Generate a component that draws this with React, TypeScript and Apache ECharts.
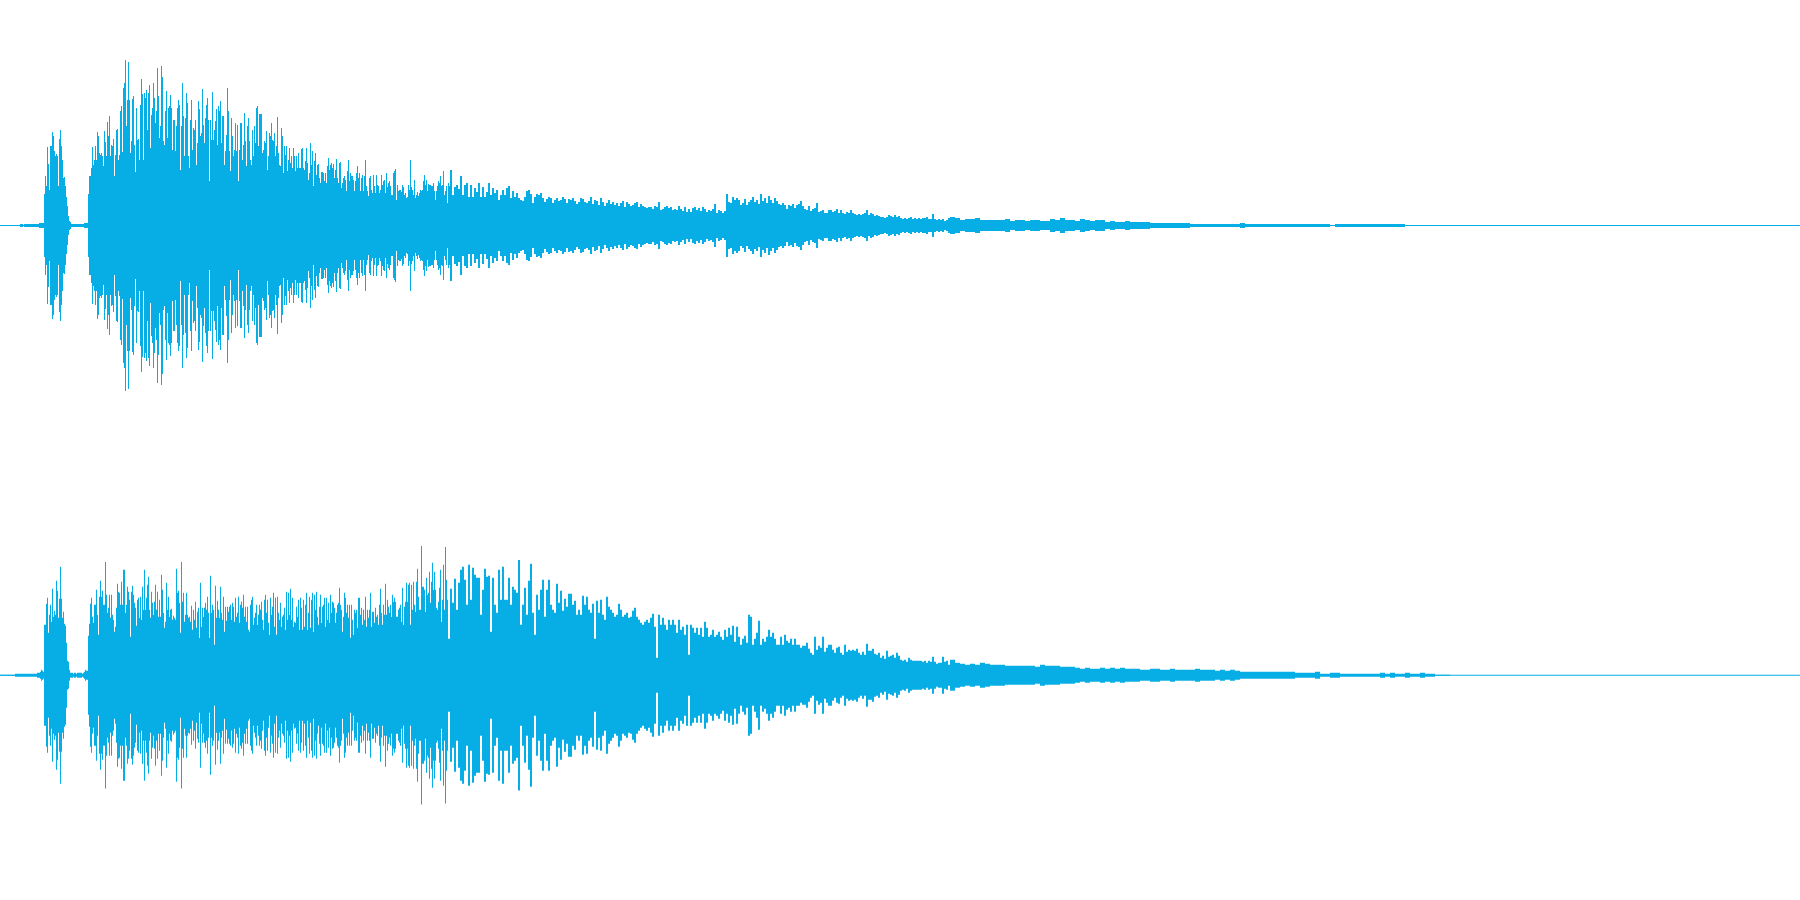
import React, { useEffect, useRef } from "react";
import * as echarts from "echarts";

const COLOR = "#07AEE6";

// Per-column peak amplitude (symmetric about zero).
const upperFine = [
  0,0,0,0,0,0,0,0,0,0,
  0,0,0,0,0,0,0,0,0,0,
  1,1,1,0,1,1,1,1,1,1,
  1,1,1,1,1,1,1,1,1,2,
  2,2,2,2,31,49,39,78,61,35,
  79,79,93,89,74,69,71,69,39,86,
  95,79,65,47,48,39,28,19,9,4,
  3,1,1,1,1,1,1,1,1,1,
  1,1,1,1,2,2,2,2,31,49,
  49,57,78,60,65,79,65,93,89,72,
  70,72,69,59,94,83,69,103,89,109,
  69,80,79,86,49,70,95,96,65,70,
  114,119,73,137,142,165,99,125,163,125,
  72,84,126,129,80,53,117,85,86,65,
  120,146,131,65,132,127,135,95,132,140,
  77,110,117,142,127,102,114,157,129,87,
  99,159,148,84,80,114,134,87,117,119,
  130,117,75,105,105,74,99,117,125,120,
  55,99,142,109,69,107,132,122,69,57,
  105,125,75,97,95,105,60,82,124,116,
  89,92,136,100,82,107,120,127,105,44,
  105,85,133,85,95,104,116,80,119,114,
  124,82,109,109,60,74,90,137,114,74,
  54,107,89,69,75,102,74,100,44,75,
  102,102,65,80,112,84,59,99,107,84,
  65,60,95,69,99,82,117,119,79,111,
  111,111,72,75,84,82,94,55,69,92,
  89,102,85,84,92,69,79,108,72,60,
  59,97,89,52,79,70,79,54,65,77,
  62,69,57,77,69,54,69,57,72,57,
  57,76,77,57,55,64,77,62,45,52,
  82,60,74,39,64,72,50,60,61,47,
  42,53,53,52,44,52,42,59,67,55,
  60,62,57,61,47,55,66,47,42,62,
  63,37,42,47,49,45,34,54,65,44,
  52,49,49,45,34,44,52,59,47,52,
  34,47,50,34,49,65,39,34,29,47,
  49,35,32,50,39,32,50,40,39,32,
  35,50,40,44,45,32,52,38,42,44,
  39,30,30,52,54,56,25,40,34,35,
  35,33,40,38,30,32,27,28,40,35,
  65,38,35,30,45,27,30,33,29,32,
  35,34,35,44,50,40,45,34,41,40,
  40,39,39,42,34,25,34,39,44,42,
  49,39,40,54,30,34,39,22,42,39,
];

const upperMid = [
  55,30,38,40,36,49,30,40,42,28,
  40,28,37,33,42,28,38,28,33,42,
  30,37,32,35,25,30,35,30,37,39,
  27,34,28,32,27,25,24,28,34,35,
  31,22,28,31,30,32,27,23,26,28,
  27,22,25,27,24,25,28,26,22,26,
  25,27,24,21,23,27,26,23,22,24,
  28,21,25,24,20,27,23,19,22,25,
  21,23,20,22,19,22,24,18,23,21,
  19,20,22,23,18,21,19,18,17,18,
  18,16,19,18,23,15,16,18,19,17,
  18,15,16,15,19,16,14,18,13,16,
  13,17,18,15,17,14,18,16,13,15,
  14,16,21,12,15,14,12,14,31,23,
  22,28,25,27,25,20,22,26,20,23,
  25,28,23,25,21,31,24,27,22,29,
  25,22,27,24,21,20,22,20,16,20,
  19,21,17,20,21,24,19,16,15,19,
  14,16,17,22,13,14,15,12,12,15,
  15,13,14,16,12,15,12,11,13,12,
  15,12,11,10,11,10,11,12,15,10,
  12,11,9,10,9,8,8,7,8,10,
  9,8,10,8,9,7,6,7,6,7,
  8,6,7,6,7,6,7,7,8,6,
  6,11,6,5,6,5,6,4,5,7,
];

const upperTail = [
  8,7,5,6,6,7,5,5,5,5,
  5,6,4,5,5,4,5,5,4,4,
  6,5,7,5,5,4,6,5,4,5,
  5,3,4,3,3,4,3,3,3,3,
  2,2,2,2,2,2,2,2,1,1,
  1,1,1,1,1,1,1,1,2,1,
  1,1,1,1,1,1,1,1,1,1,
  1,1,1,1,1,1,0,1,1,1,
  1,1,1,1,1,1,1,1,1,1,
  1,0,0,0,0,0,0,0,0,0,
];

const lowerFine = [
  0,0,0,0,0,0,0,0,0,0,
  0,0,0,0,0,1,1,1,1,1,
  1,1,1,1,1,1,1,1,1,1,
  1,1,1,1,1,1,1,2,2,2,
  3,5,4,3,50,50,71,77,42,60,
  70,53,86,58,64,60,94,84,57,76,
  108,76,57,63,51,49,32,14,13,5,
  2,2,2,1,2,2,1,2,2,2,
  2,2,1,2,3,5,4,4,39,51,
  71,77,58,52,70,70,85,60,40,78,
  94,78,84,70,70,113,80,62,67,80,
  57,80,60,55,43,48,67,91,83,82,
  70,93,70,105,105,62,70,88,83,75,
  38,83,89,80,72,67,49,75,77,57,
  78,55,88,65,105,65,77,90,98,65,
  57,83,72,60,73,90,65,83,58,75,
  58,100,85,62,47,53,92,65,78,58,
  65,66,55,59,57,55,106,82,84,72,
  42,113,73,82,53,60,82,60,57,58,
  53,69,45,65,55,73,47,63,67,37,
  92,48,67,58,67,72,65,78,62,37,
  99,62,70,65,30,89,57,74,65,57,
  88,62,55,78,43,68,54,68,63,68,
  70,55,72,68,53,77,58,62,78,52,
  70,73,67,80,58,68,53,68,45,43,
  70,75,78,50,57,62,70,50,60,70,
  65,73,55,45,75,80,62,75,52,40,
  77,60,68,82,48,77,40,78,62,55,
  72,48,58,60,67,45,83,55,82,60,
  86,55,77,48,53,52,68,58,75,45,
  77,67,45,75,48,70,82,45,62,78,
  47,75,82,43,80,65,83,58,50,68,
  80,52,68,70,77,48,77,55,72,52,
  80,62,73,72,67,52,62,70,72,87,
  70,65,43,58,82,77,62,70,57,70,
  37,70,55,40,65,62,65,47,77,77,
  60,67,50,65,55,78,48,65,57,65,
  82,48,63,63,52,67,58,60,50,70,
  86,62,50,70,60,91,60,75,68,62,
  70,58,80,73,77,73,58,58,65,67,
  70,53,87,50,68,73,92,73,90,92,
  50,90,65,93,70,63,93,106,78,65,
  65,129,88,88,85,63,97,80,82,103,
  72,93,112,85,103,85,67,65,73,87,
  105,53,75,110,65,128,95,75,36,36,
];

const lowerMid = [
  86,72,96,65,92,105,108,95,70,110,
  75,107,100,97,97,60,85,106,98,99,
  43,97,70,62,105,75,108,75,75,97,
  70,88,85,82,115,50,70,87,60,94,
  111,62,40,80,65,85,95,58,85,95,
  70,65,62,91,72,84,64,76,68,81,
  81,70,74,60,65,60,79,70,78,65,
  62,71,36,74,62,75,60,55,78,68,
  65,62,58,60,71,65,58,60,62,57,
  58,64,67,58,55,52,50,53,55,52,
  57,61,48,17,60,50,57,50,45,55,
  50,55,50,42,55,45,48,40,50,20,
  50,47,42,47,40,47,38,53,47,38,
  40,45,38,40,43,38,35,45,38,47,
  40,49,33,48,38,30,36,39,32,60,
  58,30,36,42,54,30,36,33,38,45,
  38,42,36,30,30,38,30,40,34,32,
  36,30,36,30,30,27,29,29,32,26,
  22,20,38,25,29,27,38,23,27,30,
  30,25,22,27,28,22,20,30,23,25,
  24,25,24,26,22,20,23,20,31,24,
  24,26,21,20,22,17,19,16,24,18,
  19,20,17,22,19,15,14,15,13,17,
  15,14,14,14,14,14,13,14,12,14,
  13,18,13,11,12,12,18,13,14,10,
];

const lowerTail = [
  15,12,11,10,11,10,12,11,10,10,
  10,9,9,9,9,9,9,8,10,9,
  9,9,8,8,8,7,6,7,6,6,
  7,6,7,6,7,6,6,6,5,5,
  6,6,5,5,6,5,5,5,5,6,
  5,5,5,4,5,4,5,4,3,3,
  3,3,3,3,3,3,3,3,3,2,
  2,2,2,3,1,1,2,2,1,1,
  1,1,1,1,1,1,2,1,2,1,
  1,2,1,1,2,1,1,0,0,0,
];

const DURATION = 1800;
const FINE_STEP = 1;
const MID_START = 450;
const MID_STEP = 2;
const TAIL_START = 950;
const TAIL_STEP = 5;

function columns(fine: number[], mid: number[], tail: number[]) {
  const rows: number[][] = [[0, 0, DURATION]];
  fine.forEach((v, i) => rows.push([i * FINE_STEP, v, FINE_STEP]));
  mid.forEach((v, i) => rows.push([MID_START + i * MID_STEP, v, MID_STEP]));
  tail.forEach((v, i) => rows.push([TAIL_START + i * TAIL_STEP, v, TAIL_STEP]));
  return rows;
}

function renderColumn(_: any, api: any) {
  const x = api.value(0);
  const amp = api.value(1);
  const w = api.value(2);
  const top = api.coord([x, amp]);
  const bottom = api.coord([x, -amp]);
  const width = api.size([w, 0])[0];
  return {
    type: "rect",
    shape: { x: top[0], y: top[1] - 0.5, width, height: bottom[1] - top[1] + 1 },
    style: { fill: COLOR },
  };
}

export default function App() {
  const ref = useRef<HTMLDivElement>(null);
  useEffect(() => {
    document.body.style.margin = "0";
    const chart = echarts.init(ref.current!, null, { renderer: "svg" });
    const xAxis = (gridIndex: number) => ({ type: "value", gridIndex, min: 0, max: DURATION, show: false });
    const yAxis = (gridIndex: number) => ({ type: "value", gridIndex, min: -225, max: 225, show: false });
    chart.setOption({
      animation: false,
      backgroundColor: "#ffffff",
      grid: [
        { left: 0, top: 0.5, width: 1800, height: 450 },
        { left: 0, top: 450.5, width: 1800, height: 450 },
      ],
      xAxis: [xAxis(0), xAxis(1)],
      yAxis: [yAxis(0), yAxis(1)],
      series: [
        {
          type: "custom", xAxisIndex: 0, yAxisIndex: 0, silent: true, clip: false,
          encode: { x: 0, y: 1 }, renderItem: renderColumn,
          data: columns(upperFine, upperMid, upperTail),
        },
        {
          type: "custom", xAxisIndex: 1, yAxisIndex: 1, silent: true, clip: false,
          encode: { x: 0, y: 1 }, renderItem: renderColumn,
          data: columns(lowerFine, lowerMid, lowerTail),
        },
      ],
    });
    return () => chart.dispose();
  }, []);
  return <div ref={ref} style={{ width: 1800, height: 900 }} />;
}
